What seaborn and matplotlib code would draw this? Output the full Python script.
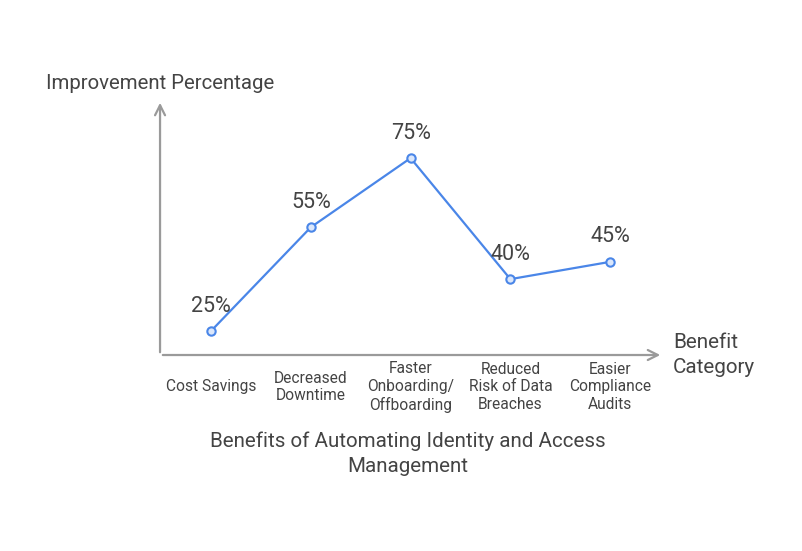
"""Line chart: benefits of automating identity and access management."""

import matplotlib

matplotlib.use("Agg")

import matplotlib.pyplot as plt
import seaborn as sns
import pandas as pd

categories = [
    "Cost Savings",
    "Decreased\nDowntime",
    "Faster\nOnboarding/\nOffboarding",
    "Reduced\nRisk of Data\nBreaches",
    "Easier\nCompliance\nAudits",
]
improvement = [25, 55, 75, 40, 45]

LINE = "#4a86e8"
AXIS = "#9a9a9a"
TEXT = "#444444"

sns.set_theme(style="white")
plt.rcParams["font.family"] = ["Roboto", "DejaVu Sans"]

df = pd.DataFrame({"pos": range(len(categories)), "value": improvement})

fig = plt.figure(figsize=(8.03, 5.51), dpi=100)
ax = fig.add_axes([0.1993, 0.3557, 0.6264, 0.4628])

sns.lineplot(
    data=df, x="pos", y="value", ax=ax, color=LINE, lw=1.6,
    marker="o", markersize=6, markerfacecolor="#dbe7fb",
    markeredgecolor=LINE, markeredgewidth=1.5,
)

for x, v in zip(df["pos"], df["value"]):
    ax.annotate(f"{v}%", (x, v), xytext=(0, 18), textcoords="offset points",
                ha="center", va="center", fontsize=15.5, color=TEXT)

ax.set_xlim(-0.511, 4.53)
ax.set_ylim(18.06, 91.8)
for s in ax.spines.values():
    s.set_visible(False)
ax.set_yticks([])
ax.set_xticks(df["pos"])
ax.set_xticklabels(categories, fontsize=11.2, color=TEXT, linespacing=1.22)
ax.tick_params(axis="x", length=0, pad=23)
plt.setp(ax.get_xticklabels(), va="center", ha="center", multialignment="center")
ax.set_xlabel("")
ax.set_ylabel("")

# axis arrows
arrow = dict(arrowstyle="->", color=AXIS, lw=1.6, mutation_scale=18)
ax.annotate("", xy=(0, 1), xytext=(0, 0), xycoords="axes fraction", arrowprops=arrow)
ax.annotate("", xy=(1, 0), xytext=(0, 0), xycoords="axes fraction", arrowprops=arrow)

ax.annotate("Improvement Percentage", (0, 1), xycoords="axes fraction",
            xytext=(0, 12), textcoords="offset points", ha="center", va="center",
            fontsize=14.7, color=TEXT)
ax.annotate("Benefit\nCategory", (1, 0), xycoords="axes fraction",
            xytext=(7, 0), textcoords="offset points", ha="left", va="center",
            fontsize=14.9, color=TEXT, linespacing=1.38)

fig.text(408 / 803, 1 - 454 / 551,
         "Benefits of Automating Identity and Access\nManagement",
         ha="center", va="center", fontsize=14.75, color=TEXT, linespacing=1.4)

fig.savefig("out.png", dpi=100)
plt.close(fig)
